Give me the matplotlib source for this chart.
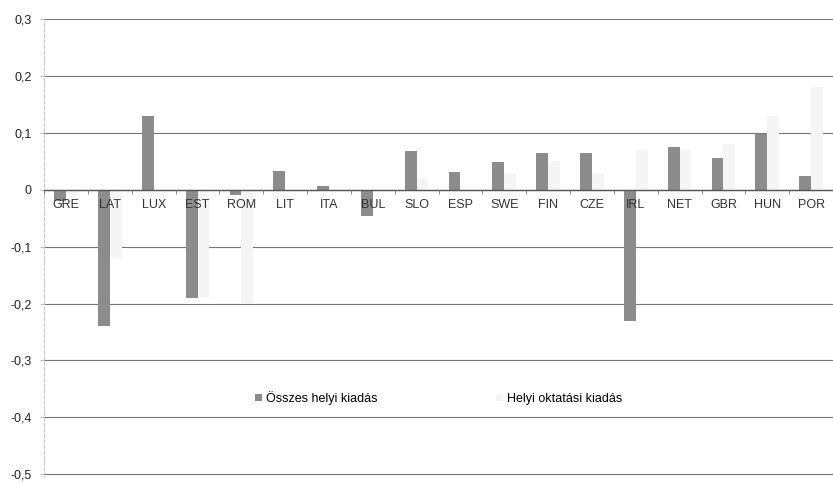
import matplotlib
matplotlib.use("Agg")
import matplotlib.pyplot as plt
import numpy as np

plt.rcParams['font.family'] = ['Liberation Sans', 'DejaVu Sans']

categories = ["GRE", "LAT", "LUX", "EST", "ROM", "LIT", "ITA", "BUL", "SLO",
              "ESP", "SWE", "FIN", "CZE", "IRL", "NET", "GBR", "HUN", "POR"]
osszes = [-0.02, -0.24, 0.13, -0.19, -0.01, 0.033, 0.007, -0.046, 0.068,
          0.032, 0.048, 0.065, 0.064, -0.23, 0.075, 0.055, 0.098, 0.025]
oktatasi = [-0.01, -0.12, 0.0, -0.19, -0.20, 0.0, 0.0, 0.0, 0.02,
            0.0, 0.03, 0.05, 0.03, 0.07, 0.07, 0.08, 0.13, 0.18]
yticks = [0.3, 0.2, 0.1, 0, -0.1, -0.2, -0.3, -0.4, -0.5]
ytick_labels = ["0,3", "0,2", "0,1", "0", "-0,1", "-0,2", "-0,3", "-0,4", "-0,5"]
series_names = ["Összes helyi kiadás", "Helyi oktatási kiadás"]

fig = plt.figure(figsize=(8.33, 4.83), dpi=100)
ax = fig.add_axes([0.053, 0.0135, 0.947, 0.947])

x = np.arange(len(categories))
w = 0.27
ax.bar(x - w / 2, osszes, width=w, color="#8c8c8c", label=series_names[0], zorder=3)
ax.bar(x + w / 2, oktatasi, width=w, color="#f5f5f5", label=series_names[1], zorder=3)

ax.set_xlim(-0.5, len(categories) - 0.5)
ax.set_ylim(-0.504, 0.3)
ax.set_yticks(yticks)
ax.set_yticklabels(ytick_labels, fontsize=9, color="#222222")
ax.yaxis.grid(True, color="#777777", linewidth=0.8, zorder=0)
ax.tick_params(axis="y", length=3, color="#bbbbbb", pad=6)

ax.spines["top"].set_visible(False)
ax.spines["right"].set_visible(False)
ax.spines["left"].set_color("#c8c8c8")
ax.spines["left"].set_linestyle((0, (3, 2)))
ax.spines["bottom"].set_position(("data", 0))
ax.spines["bottom"].set_color("#555555")
ax.spines["bottom"].set_linewidth(1.0)
ax.spines["bottom"].set_zorder(4)

ax.set_xticks(x)
ax.set_xticklabels(categories, fontsize=9, color="#333333")
ax.set_xticks(np.arange(len(categories) + 1) - 0.5, minor=True)
ax.tick_params(axis="x", which="major", length=0, pad=7)
ax.tick_params(axis="x", which="minor", length=3, color="#777777")
ax.xaxis.set_zorder(5)

leg = ax.legend(ncol=2, loc="center", bbox_to_anchor=(0.5, 0.172), frameon=False,
                fontsize=9, handlelength=0.55, handleheight=0.55,
                handletextpad=0.3, columnspacing=9.5)

fig.savefig("out.png", dpi=100)
